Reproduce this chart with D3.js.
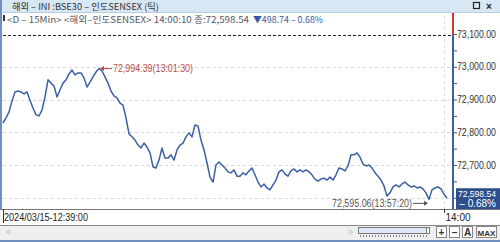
<!DOCTYPE html>
<html><head><meta charset="utf-8">
<script src="https://cdn.jsdelivr.net/npm/d3@7"></script>
<style>
html,body{margin:0;padding:0;background:#fff;overflow:hidden}
svg{display:block}
</style></head>
<body>
<svg id="c" width="500" height="242"></svg>
<script>
// ---- data ----
const title = "해외 – INI :BSE30 – 인도SENSEX (틱)";
const infoParts = ["<D – 15Min> <해외–인도SENSEX> 14:00:10 종:72,598.54", "▼498.74 – 0.68%"];
const prices = [72828,72844,72862,72895,72923,72926,72923,72917,72923,72898,
72874,72853,72850,72868,72908,72960,72950,72941,72908,72929,
72950,72960,72978,72990,72975,72981,72981,72966,72938,72953,
72969,72984,72994.39,72987,72969,72950,72926,72911,72905,72889,
72883,72844,72795,72786,72776,72761,72752,72767,72755,72737,
72694,72691,72715,72752,72721,72721,72731,72715,72746,72761,
72767,72786,72798,72786,72822,72819,72776,72746,72706,72663,
72648,72700,72709,72700,72691,72679,72676,72685,72666,72666,
72676,72670,72682,72691,72670,72648,72633,72642,72630,72624,
72639,72654,72679,72685,72673,72666,72682,72688,72679,72685,
72679,72685,72679,72670,72657,72651,72657,72660,72654,72663,
72654,72670,72691,72688,72682,72697,72731,72731,72737,72724,
72703,72697,72700,72691,72676,72666,72654,72636,72605,72615,
72633,72639,72633,72642,72648,72639,72633,72636,72630,72633,
72627,72615,72595.06,72624,72630,72633,72627,72611,72598.54];
const prevClose = 73097.28;
const yTicks = [73100,73000,72900,72800,72700,72600];
const yTickLabels = ["73,100.00","73,000.00","72,900.00","72,800.00","72,700.00",""];
const timeTicks = [0,147];
const timeLabels = ["2024/03/15-12:39:00","14:00"];
const maxLabel = "72,994.39(13:01:30)";
const minLabel = "72,595.06(13:57:20)";
const lastLabel = ["72,598.54","– 0.68%"];
const buttons = ["+","–","A","MAX"];

// ---- drawing ----
const svg = d3.select("#c");
const plotL = 3, plotR = 453, plotT = 13, plotB = 209;
const x = d3.scaleLinear().domain([0, prices.length-1]).range([3, 447]);
const y = d3.scaleLinear().domain([72600, 73100]).range([197.75, 34]);
const num = "'Liberation Sans', Arial, sans-serif";
const kr = "'Noto Sans CJK KR', 'Liberation Sans', sans-serif";

// title bar
svg.append("rect").attr("x",0).attr("y",0).attr("width",500).attr("height",12).attr("fill","#d8e7f4");
svg.append("line").attr("x1",0).attr("x2",500).attr("y1",12.5).attr("y2",12.5).attr("stroke","#b9cde0");
svg.append("text").attr("x",12).attr("y",10.3).attr("font-family",kr).attr("font-size",9)
  .attr("textLength",147).attr("lengthAdjust","spacingAndGlyphs").attr("fill","#333").text(title);
// window icons
svg.append("rect").attr("x",473.5).attr("y",2.5).attr("width",6).attr("height",6).attr("fill","none").attr("stroke","#222").attr("stroke-width",1.2);
svg.append("text").attr("x",486).attr("y",9.5).attr("font-family",num).attr("font-size",10).attr("font-weight","bold").attr("fill","#222").text("×");

// left frame strip
svg.append("rect").attr("x",0).attr("y",0).attr("width",2).attr("height",209).attr("fill","#6f8fbf");

// info line
svg.append("rect").attr("x",3).attr("y",15).attr("width",2).attr("height",6).attr("fill","#333");
svg.append("text").attr("x",7).attr("y",22.5).attr("font-family",kr).attr("font-size",9)
  .attr("textLength",242).attr("lengthAdjust","spacingAndGlyphs").attr("fill","#556").text(infoParts[0]);
svg.append("text").attr("x",253).attr("y",22.5).attr("font-family",kr).attr("font-size",9)
  .attr("textLength",70).attr("lengthAdjust","spacingAndGlyphs").attr("fill","#3558a5").text(infoParts[1]);

// grid
const grid = svg.append("g");
yTicks.filter(v=>v<73100).forEach(v=>{
  grid.append("line").attr("x1",plotL).attr("x2",plotR-1).attr("y1",Math.round(y(v))+0.5).attr("y2",Math.round(y(v))+0.5)
    .attr("stroke","#d8d8d8").attr("stroke-dasharray","3,3");
});
grid.append("line").attr("x1",Math.round(x(timeTicks[1]))+0.5).attr("x2",Math.round(x(timeTicks[1]))+0.5)
  .attr("y1",plotT+2).attr("y2",plotB).attr("stroke","#dcdcdc").attr("stroke-dasharray","3,3");

// previous close dashed
svg.append("line").attr("x1",plotL).attr("x2",plotR-1).attr("y1",Math.round(y(prevClose))+0.5).attr("y2",Math.round(y(prevClose))+0.5)
  .attr("stroke","#222").attr("stroke-dasharray","3,2");

// price line
svg.append("path").datum(prices)
  .attr("d", d3.line().x((d,i)=>x(i)).y(d=>y(d)))
  .attr("fill","none").attr("stroke","#3c5fa3").attr("stroke-width",1.5).attr("stroke-linejoin","round");

// right axis
svg.append("line").attr("x1",453).attr("x2",453).attr("y1",13).attr("y2",y(prevClose)).attr("stroke","#d23a3a").attr("stroke-width",2);
svg.append("line").attr("x1",453).attr("x2",453).attr("y1",y(prevClose)).attr("y2",plotB).attr("stroke","#3c5fa3").attr("stroke-width",2);
const ax = d3.axisRight(y).tickValues(d3.range(72600,73101,50)).tickSize(3).tickFormat("");
const axG = svg.append("g").attr("transform","translate(454,0)").call(ax);
axG.select(".domain").remove();
axG.selectAll("line").attr("stroke","#555");
yTicks.forEach((v,i)=>{
  if(!yTickLabels[i]) return;
  svg.append("text").attr("x",457).attr("y",y(v)+3.5).attr("font-family",num).attr("font-size",10)
    .attr("textLength",39).attr("lengthAdjust","spacingAndGlyphs").attr("fill","#333").text(yTickLabels[i]);
});

// max annotation
const iMax = prices.indexOf(d3.max(prices));
const mx = x(iMax), my = y(prices[iMax]);
svg.append("line").attr("x1",mx+2).attr("x2",mx+13).attr("y1",my).attr("y2",my).attr("stroke","#c04848");
svg.append("path").attr("d",`M${mx+1},${my}L${mx+5},${my-2.5}L${mx+5},${my+2.5}Z`).attr("fill","#c04848");
svg.append("text").attr("x",mx+14).attr("y",my+3.5).attr("font-family",num).attr("font-size",10)
  .attr("textLength",80).attr("lengthAdjust","spacingAndGlyphs").attr("fill","#b84a4a").text(maxLabel);

// min annotation
const iMin = prices.indexOf(d3.min(prices));
const nx = x(iMin), ny = y(prices[iMin]);
svg.append("line").attr("x1",nx-16).attr("x2",nx-2).attr("y1",ny+4).attr("y2",ny+4).attr("stroke","#555");
svg.append("path").attr("d",`M${nx-1},${ny+4}L${nx-5},${ny+1.5}L${nx-5},${ny+6.5}Z`).attr("fill","#555");
svg.append("text").attr("x",nx-97).attr("y",ny+7.5).attr("font-family",num).attr("font-size",10)
  .attr("textLength",80).attr("lengthAdjust","spacingAndGlyphs").attr("fill","#555").text(minLabel);

// last value box
const ly = y(prices[prices.length-1]);
svg.append("rect").attr("x",456).attr("y",ly-10).attr("width",44).attr("height",21).attr("fill","#2d4f8e");
svg.append("text").attr("x",458).attr("y",ly-1).attr("font-family",num).attr("font-size",9.5)
  .attr("textLength",38).attr("lengthAdjust","spacingAndGlyphs").attr("fill","#fff").text(lastLabel[0]);
svg.append("text").attr("x",496).attr("y",ly+9).attr("text-anchor","end").attr("font-family",num).attr("font-size",10).attr("fill","#fff").text(lastLabel[1]);

// time axis
svg.append("line").attr("x1",0).attr("x2",500).attr("y1",plotB+0.5).attr("y2",plotB+0.5).attr("stroke","#777");
svg.append("line").attr("x1",3.5).attr("x2",3.5).attr("y1",plotB).attr("y2",plotB+14).attr("stroke","#333");
svg.append("text").attr("x",4).attr("y",221).attr("font-family",num).attr("font-size",10)
  .attr("textLength",84).attr("lengthAdjust","spacingAndGlyphs").attr("fill","#222").text(timeLabels[0]);
const tx = Math.round(x(timeTicks[1]))+0.5;
svg.append("line").attr("x1",tx).attr("x2",tx).attr("y1",plotB).attr("y2",plotB+4).attr("stroke","#333");
svg.append("text").attr("x",tx+1).attr("y",221).attr("font-family",num).attr("font-size",10).attr("fill","#222").text(timeLabels[1]);

// scroll bar area
svg.append("rect").attr("x",0).attr("y",225).attr("width",500).attr("height",15).attr("fill","#efefef");
svg.append("line").attr("x1",0).attr("x2",500).attr("y1",225.5).attr("y2",225.5).attr("stroke","#888");
svg.append("text").attr("x",6).attr("y",235).attr("font-family",num).attr("font-size",9).attr("fill","#bbb").text("<");
svg.append("text").attr("x",348).attr("y",235).attr("font-family",num).attr("font-size",9).attr("fill","#bbb").text(">");
svg.append("rect").attr("x",358.5).attr("y",227.5).attr("width",71).attr("height",6).attr("fill","#dde7f5").attr("stroke","#777");
svg.append("rect").attr("x",426.5).attr("y",227.5).attr("width",3).attr("height",6).attr("fill","#fff").attr("stroke","#777");
d3.range(360,428,3).forEach(v=>svg.append("line").attr("x1",v+0.5).attr("x2",v+0.5).attr("y1",235).attr("y2",237).attr("stroke","#889"));
const bw = [10,10,10,20], bx = [436,449,462,476];
buttons.forEach((b,i)=>{
  svg.append("rect").attr("x",bx[i]+0.5).attr("y",226.5).attr("width",bw[i]).attr("height",11).attr("fill","#fff").attr("stroke","#888");
  svg.append("text").attr("x",bx[i]+bw[i]/2+0.5).attr("y",235.5).attr("text-anchor","middle").attr("font-family",num)
    .attr("font-size",b==="MAX"?8:10).attr("font-weight","bold").attr("fill","#333").text(b);
});
// bottom frame
svg.append("rect").attr("x",0).attr("y",240).attr("width",500).attr("height",2).attr("fill","#6f8fbf");
</script>
</body></html>
